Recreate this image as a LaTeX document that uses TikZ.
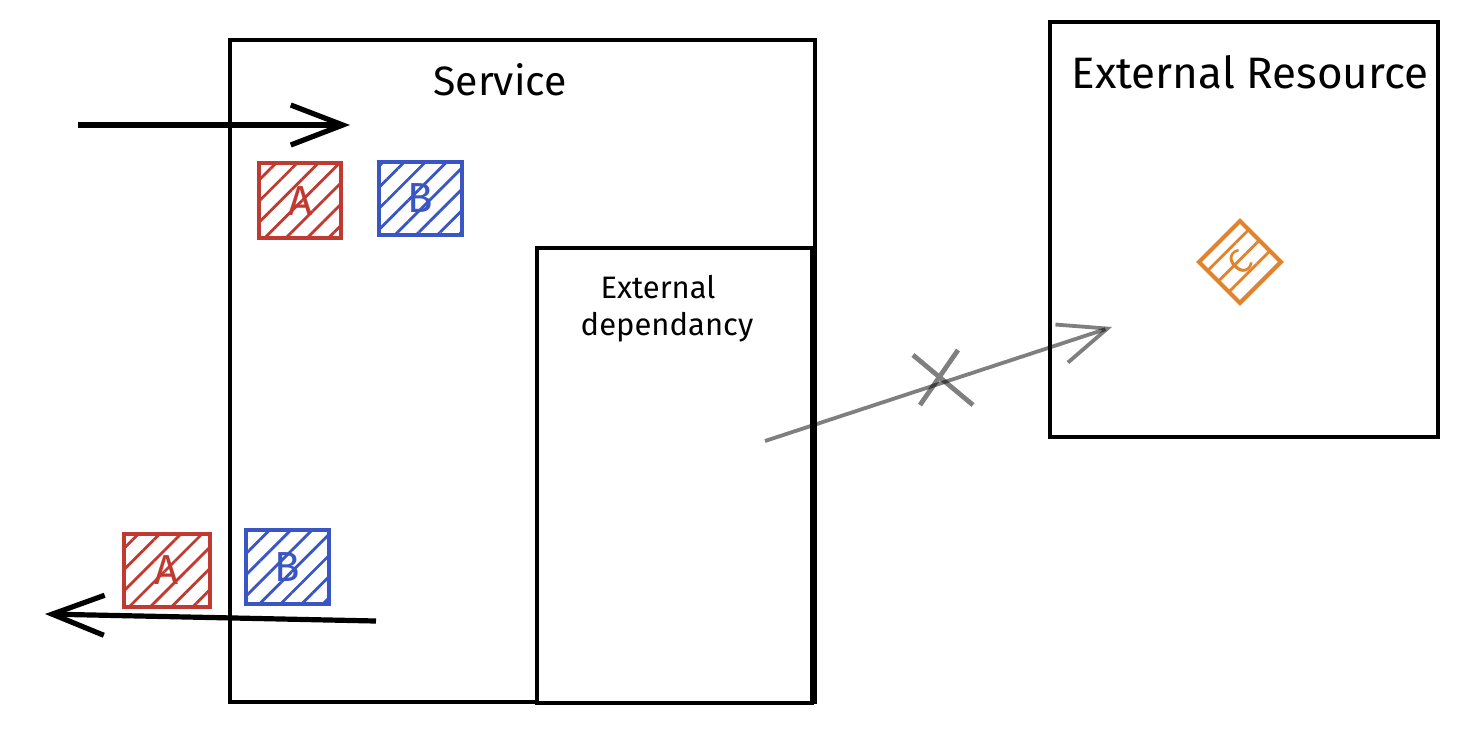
\documentclass[tikz,border=0pt]{standalone}
\usepackage{fontspec}
\setmainfont{Fira Sans}
\usetikzlibrary{patterns.meta,arrows.meta}
\definecolor{xred}{HTML}{C03A32}
\definecolor{xblue}{HTML}{3A55C4}
\definecolor{xorange}{HTML}{E0832C}
\tikzset{
  frame/.style={draw=black,line width=2.3pt,anchor=north west,inner sep=0pt,outer sep=0pt},
  tok/.style={draw=#1,line width=2pt,anchor=north west,inner sep=0pt,text=#1,font=\fontsize{21}{21}\selectfont,
    pattern={Lines[angle=45,distance=7.5pt,line width=1.4pt]},pattern color=#1},
  flow/.style={line width=2.6pt,-{Straight Barb[length=26pt,width=20pt]}},
  title/.style={font=\fontsize{20.5}{22}\selectfont},
  sub/.style={font=\fontsize{15.5}{17}\selectfont},
}
\begin{document}
\begin{tikzpicture}[x=0.5pt,y=-0.5pt]
\useasboundingbox (0,0) rectangle (1468,736);
% frames
\node[frame,minimum width=292.5pt,minimum height=331pt] (svc) at (230,40) {};
\node[frame,minimum width=137.5pt,minimum height=227.5pt,fill=white] (dep) at (537,248) {};
\node[frame,minimum width=194pt,minimum height=207.5pt] (res) at (1050,22) {};
% titles
\node[title] (svct) at (500,80) {Service};
\node[title,font=\fontsize{22}{24}\selectfont] (rest) at (1250,72) {External Resource};
\node[sub] (dept1) at (658,287) {External};
\node[sub] (dept2) at (667,327) {dependancy};
% tokens
\node[tok=xred,minimum width=41pt,minimum height=37.5pt] (a1) at (258,162) {A};
\node[tok=xblue,minimum width=41.5pt,minimum height=36.5pt] (b1) at (377,160) {B};
\node[tok=xred,minimum width=43pt,minimum height=36.5pt] (a2) at (122,532) {A};
\node[tok=xblue,minimum width=41.5pt,minimum height=37pt] (b2) at (244,528) {B};
\node[tok=xorange,anchor=center,rotate=45,minimum size=29pt,font=\fontsize{17}{17}\selectfont] (c) at (1240,262) {C};
% arrows
\coordinate (ins) at (78,125);
\coordinate (ine) at (350,125);
\draw[flow] (ins) -- (ine);
\coordinate (outs) at (376,621);
\coordinate (oute) at (45,614);
\draw[flow] (outs) -- (oute);
\coordinate (calls) at (765,441);
\coordinate (calle) at (1112,327);
\draw[line width=1.9pt,draw=black,draw opacity=0.5,-{Straight Barb[length=24pt,width=20pt]}] (calls) -- (calle);
% cross
\coordinate (x1) at (913,355);
\coordinate (x2) at (973,405);
\coordinate (x3) at (958,350);
\coordinate (x4) at (920,405);
\draw[line width=2.4pt,draw=black,draw opacity=0.5] (x1) -- (x2) (x3) -- (x4);
\end{tikzpicture}
\end{document}
